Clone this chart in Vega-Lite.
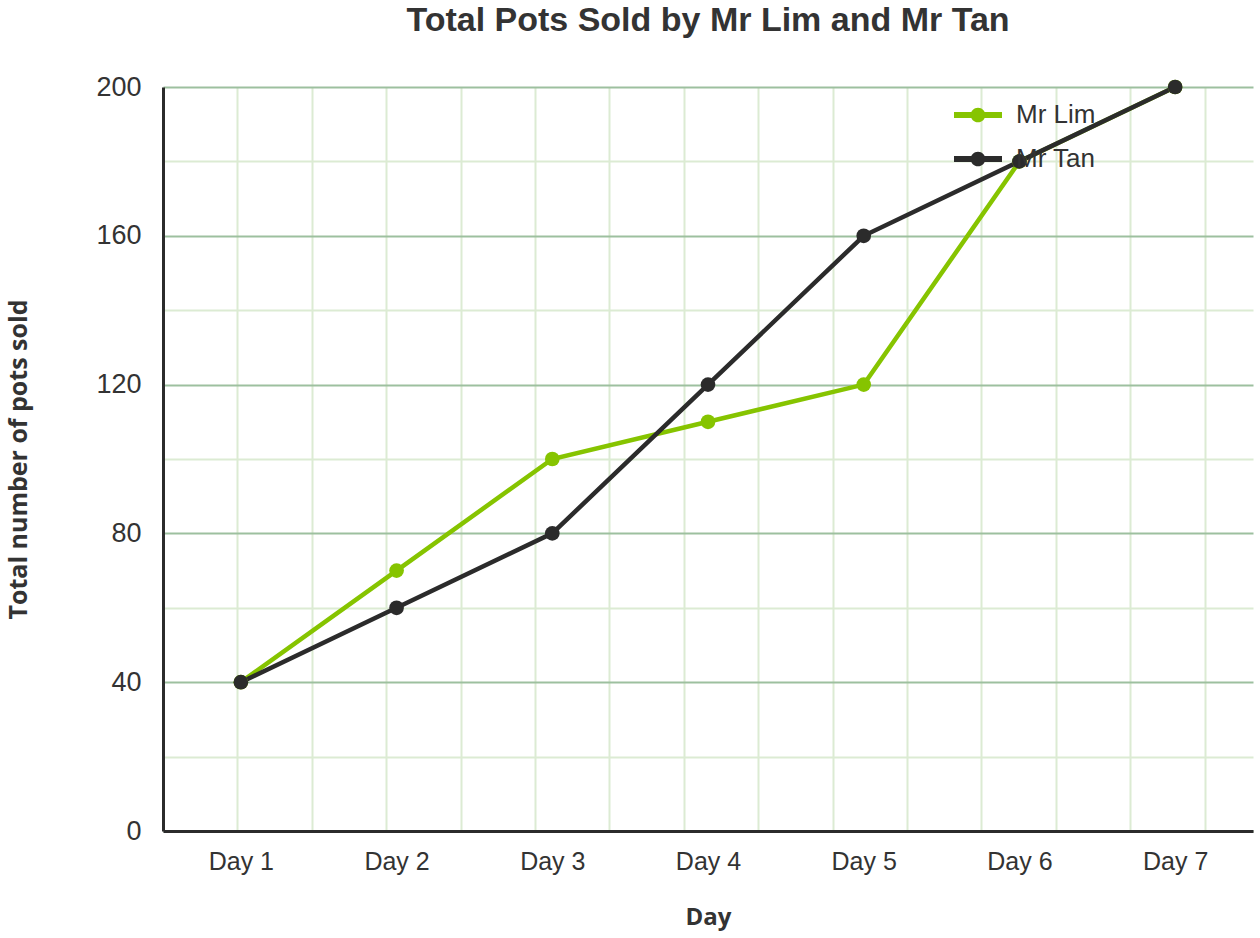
{
  "$schema": "https://vega.github.io/schema/vega-lite/v6.json",
  "width": 1090,
  "height": 744,
  "autosize": {"type": "none"},
  "padding": {"left": 163, "top": 87, "right": 7, "bottom": 107},
  "background": "white",
  "title": {
    "text": "Total Pots Sold by Mr Lim and Mr Tan",
    "font": "Liberation Sans",
    "fontSize": 34,
    "fontWeight": "bold",
    "color": "#333333",
    "anchor": "middle",
    "frame": "group",
    "offset": 35
  },
  "data": {
    "values": [
      {"Day": "Day 1", "Seller": "Mr Lim", "Pots": 40},
      {"Day": "Day 2", "Seller": "Mr Lim", "Pots": 70},
      {"Day": "Day 3", "Seller": "Mr Lim", "Pots": 100},
      {"Day": "Day 4", "Seller": "Mr Lim", "Pots": 110},
      {"Day": "Day 5", "Seller": "Mr Lim", "Pots": 120},
      {"Day": "Day 6", "Seller": "Mr Lim", "Pots": 180},
      {"Day": "Day 7", "Seller": "Mr Lim", "Pots": 200},
      {"Day": "Day 1", "Seller": "Mr Tan", "Pots": 40},
      {"Day": "Day 2", "Seller": "Mr Tan", "Pots": 60},
      {"Day": "Day 3", "Seller": "Mr Tan", "Pots": 80},
      {"Day": "Day 4", "Seller": "Mr Tan", "Pots": 120},
      {"Day": "Day 5", "Seller": "Mr Tan", "Pots": 160},
      {"Day": "Day 6", "Seller": "Mr Tan", "Pots": 180},
      {"Day": "Day 7", "Seller": "Mr Tan", "Pots": 200}
    ]
  },
  "layer": [
    {
      "mark": {"type": "point", "opacity": 0},
      "encoding": {
        "x": {
          "field": "Pots",
          "type": "quantitative",
          "scale": {"domain": [0, 14.65], "nice": false, "zero": false},
          "axis": {
            "orient": "top",
            "values": [1, 2, 3, 4, 5, 6, 7, 8, 9, 10, 11, 12, 13, 14],
            "grid": true,
            "gridColor": "#dcebd3",
            "gridWidth": 2,
            "labels": false,
            "ticks": false,
            "domain": false,
            "title": null
          }
        }
      }
    },
    {
      "mark": {"type": "line", "strokeWidth": 4.5},
      "encoding": {
        "x": {
          "field": "Day",
          "type": "ordinal",
          "sort": null,
          "axis": {
            "title": "Day",
            "labelAngle": 0,
            "labelFont": "Liberation Sans",
            "labelFontSize": 25,
            "labelColor": "#333333",
            "labelPadding": 18,
            "ticks": false,
            "grid": false,
            "domainColor": "#2b2b2b",
            "domainWidth": 3,
            "titleFont": "Open Sans",
            "titleFontSize": 24,
            "titleFontWeight": "bold",
            "titleColor": "#333333",
            "titlePadding": 31
          }
        },
        "y": {
          "field": "Pots",
          "type": "quantitative",
          "scale": {"domain": [0, 200], "nice": false},
          "axis": {
            "title": "Total number of pots sold",
            "values": [0, 20, 40, 60, 80, 100, 120, 140, 160, 180, 200],
            "labelExpr": "datum.value % 40 === 0 ? datum.label : ''",
            "labelFont": "Liberation Sans",
            "labelFontSize": 27,
            "labelColor": "#333333",
            "labelPadding": 22,
            "ticks": false,
            "grid": true,
            "gridWidth": 2,
            "gridColor": {
              "condition": {"test": "datum.value % 40 === 0", "value": "#9dc09f"},
              "value": "#dcebd3"
            },
            "domainColor": "#2b2b2b",
            "domainWidth": 3,
            "titleFont": "Open Sans",
            "titleFontSize": 25,
            "titleFontWeight": "bold",
            "titleColor": "#333333",
            "titlePadding": 64
          }
        },
        "color": {
          "field": "Seller",
          "type": "nominal",
          "scale": {"domain": ["Mr Lim", "Mr Tan"], "range": ["#86c400", "#2b2b2b"]},
          "legend": {
            "title": null,
            "orient": "none",
            "legendX": 799,
            "legendY": 12,
            "symbolType": "M-1.5,-0.18L-0.42,-0.18L-0.42,0.18L-1.5,0.18Z M0.42,-0.18L1.5,-0.18L1.5,0.18L0.42,0.18Z M0.46,0A0.46,0.46 0 1,1 -0.46,0A0.46,0.46 0 1,1 0.46,0Z",
            "symbolSize": 1024,
            "symbolStrokeWidth": 0,
            "symbolOpacity": 1,
            "labelFont": "Liberation Sans",
            "labelFontSize": 26,
            "labelColor": "#333333",
            "labelOffset": 22,
            "rowPadding": 15
          }
        }
      }
    },
    {
      "mark": {"type": "point", "filled": true, "size": 215, "opacity": 1},
      "encoding": {
        "x": {"field": "Day", "type": "ordinal", "sort": null, "axis": null},
        "y": {"field": "Pots", "type": "quantitative"},
        "color": {"field": "Seller", "type": "nominal"}
      }
    }
  ],
  "resolve": {"scale": {"x": "independent"}, "axis": {"x": "independent"}},
  "config": {"view": {"stroke": null}}
}
